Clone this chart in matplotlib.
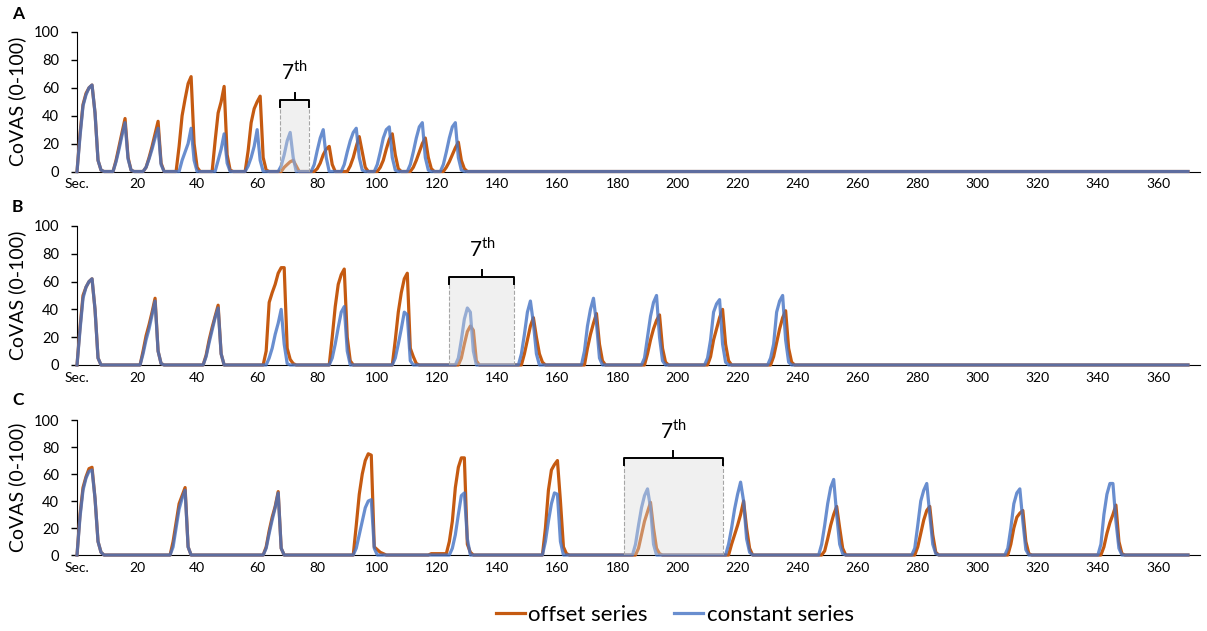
import numpy as np
import matplotlib
matplotlib.use('Agg')
from matplotlib import pyplot as plt
from matplotlib.patches import Rectangle

plt.rcParams['font.family'] = ['Lato', 'DejaVu Sans']
plt.rcParams['mathtext.fontset'] = 'custom'
plt.rcParams['mathtext.rm'] = 'Lato'

# time axis, one sample per second
seconds = np.arange(0, 371)
tick_pos = list(range(0, 361, 20))
tick_labels = ['Sec.'] + [str(t) for t in tick_pos[1:]]

# peaks: (start second, values per second); everything else is 0
a_offset = [(0, [0, 27, 48, 56, 60, 62, 42, 8, 1, 0]),
            (12, [0, 8, 18, 28, 38, 10, 1, 0]),
            (22, [0, 3, 10, 18, 27, 36, 6, 0]),
            (33, [0, 18, 40, 52, 63, 68, 20, 3, 0]),
            (45, [0, 22, 42, 50, 61, 12, 1, 0]),
            (56, [0, 15, 35, 45, 50, 54, 10, 1, 0]),
            (68, [0, 3, 5, 7, 8, 4, 0]),
            (79, [0, 2, 6, 12, 16, 18, 5, 0]),
            (90, [0, 4, 10, 18, 25, 14, 3, 0]),
            (100, [0, 3, 8, 16, 23, 27, 12, 2, 0]),
            (111, [0, 3, 8, 14, 20, 24, 10, 2, 0]),
            (122, [0, 3, 7, 12, 17, 21, 8, 2, 0])]
a_constant = [(0, [0, 25, 47, 55, 60, 62, 42, 8, 1, 0]),
              (12, [0, 7, 16, 26, 35, 9, 1, 0]),
              (22, [0, 3, 9, 16, 24, 31, 5, 0]),
              (34, [0, 8, 14, 20, 31, 8, 0]),
              (46, [0, 8, 16, 27, 6, 0]),
              (56, [0, 4, 10, 18, 30, 8, 0]),
              (67, [0, 4, 12, 22, 28, 10, 0]),
              (78, [0, 5, 15, 24, 30, 10, 0]),
              (88, [0, 5, 14, 22, 28, 31, 10, 1, 0]),
              (99, [0, 5, 14, 24, 30, 32, 10, 1, 0]),
              (110, [0, 5, 14, 24, 32, 35, 10, 1, 0]),
              (121, [0, 5, 14, 24, 32, 35, 10, 1, 0])]

b_offset = [(0, [0, 27, 50, 56, 60, 62, 40, 5, 0]),
            (21, [0, 10, 21, 29, 38, 48, 10, 1, 0]),
            (42, [0, 7, 18, 27, 35, 43, 8, 0]),
            (62, [0, 10, 45, 52, 58, 66, 70, 70, 12, 4, 1, 0]),
            (84, [0, 20, 42, 58, 65, 69, 20, 3, 0]),
            (105, [0, 18, 38, 52, 62, 66, 12, 6, 1, 0]),
            (127, [0, 5, 15, 24, 28, 25, 3, 0]),
            (148, [0, 8, 18, 28, 34, 20, 8, 2, 0]),
            (169, [0, 12, 22, 30, 37, 15, 3, 0]),
            (189, [0, 8, 18, 26, 32, 36, 12, 2, 0]),
            (210, [0, 6, 18, 26, 34, 40, 15, 3, 0]),
            (231, [0, 6, 16, 26, 34, 39, 12, 2, 0])]
b_constant = [(0, [0, 25, 48, 56, 60, 62, 40, 5, 0]),
              (21, [0, 8, 18, 26, 36, 46, 10, 1, 0]),
              (42, [0, 6, 16, 25, 34, 41, 8, 0]),
              (63, [0, 5, 12, 22, 30, 40, 15, 1, 0]),
              (84, [0, 5, 15, 27, 38, 42, 10, 0]),
              (105, [0, 5, 15, 26, 38, 36, 3, 0]),
              (126, [0, 5, 18, 33, 41, 38, 10, 0]),
              (147, [0, 8, 22, 38, 46, 30, 8, 0]),
              (168, [0, 10, 28, 40, 48, 30, 5, 0]),
              (188, [0, 5, 20, 35, 45, 50, 20, 3, 0]),
              (209, [0, 5, 18, 38, 44, 47, 15, 2, 0]),
              (230, [0, 5, 15, 38, 46, 50, 18, 2, 0])]

c_offset = [(0, [0, 30, 50, 58, 64, 65, 42, 10, 2, 0]),
            (31, [0, 10, 24, 38, 44, 50, 6, 0]),
            (62, [0, 6, 18, 28, 36, 47, 5, 0]),
            (92, [0, 22, 45, 60, 70, 75, 74, 6, 4, 2, 1, 0]),
            (118, [1, 1, 1, 1, 1, 1, 10, 25, 50, 65, 72, 72, 8, 2, 0]),
            (155, [0, 20, 48, 63, 67, 70, 40, 6, 1, 0]),
            (186, [0, 5, 15, 25, 32, 39, 20, 5, 1, 0]),
            (217, [0, 8, 15, 22, 30, 40, 20, 5, 0]),
            (248, [0, 3, 12, 22, 30, 36, 20, 5, 0]),
            (279, [0, 6, 16, 26, 33, 36, 15, 2, 0]),
            (310, [0, 8, 20, 28, 31, 33, 10, 1, 0]),
            (341, [0, 6, 16, 24, 30, 37, 10, 1, 0])]
c_constant = [(0, [0, 28, 48, 57, 62, 63, 42, 10, 2, 0]),
              (31, [0, 6, 20, 34, 42, 48, 6, 0]),
              (62, [0, 5, 16, 26, 35, 46, 5, 0]),
              (92, [0, 5, 15, 25, 35, 40, 41, 5, 0]),
              (124, [0, 5, 15, 30, 44, 46, 12, 0]),
              (155, [0, 10, 25, 38, 46, 45, 10, 0]),
              (185, [0, 8, 22, 35, 44, 49, 35, 8, 0]),
              (216, [0, 8, 20, 34, 45, 54, 40, 12, 2, 0]),
              (247, [0, 8, 22, 38, 50, 56, 30, 8, 1, 0]),
              (278, [0, 5, 22, 40, 48, 53, 30, 8, 1, 0]),
              (309, [0, 5, 20, 38, 46, 49, 25, 4, 0]),
              (340, [0, 8, 30, 45, 53, 53, 25, 5, 0])]

# 7th stimulus window: (from, to, top of bracket)
seventh = [(67.7, 77.3, 51.4), (124.0, 145.7, 63.5), (182.3, 215.0, 71.9)]

panel_names = ['A', 'B', 'C']
offsets = [a_offset, b_offset, c_offset]
constants = [a_constant, b_constant, c_constant]

orange = '#C55A11'
blue = '#4472C4'


def build(peaks):
    y = np.zeros(len(seconds))
    for start, vals in peaks:
        y[start:start + len(vals)] = vals
    return y


fig = plt.figure(figsize=(12.07, 6.31), dpi=100)
# axes rectangles in figure fractions (bottom, height)
rects = [(0.7282, 0.2211), (0.4216, 0.2203), (0.1204, 0.2139)]
letter_y = [1 - 14 / 631, 1 - 207 / 631, 1 - 400 / 631]

for i in range(3):
    ax = fig.add_axes([0.0638, rects[i][0], 0.9304, rects[i][1]])
    ax.plot(seconds, build(offsets[i]), color=orange, lw=2.3, clip_on=False, zorder=3)
    ax.plot(seconds, build(constants[i]), color=blue, lw=2.3, alpha=0.8, clip_on=False, zorder=4)

    x0, x1, top = seventh[i]
    box = Rectangle((x0, 0), x1 - x0, top, facecolor='#DADADA', alpha=0.4,
                    edgecolor='none', zorder=5)
    ax.add_patch(box)
    ax.plot([x0, x0], [0, top], color='#A6A6A6', lw=0.8, ls='--', zorder=6)
    ax.plot([x1, x1], [0, top], color='#A6A6A6', lw=0.8, ls='--', zorder=6)
    # bracket
    xm = (x0 + x1) / 2
    ax.plot([x0, x0, x1, x1], [top - 5, top, top, top - 5], color='black', lw=1.4,
            zorder=7, clip_on=False, solid_joinstyle='round')
    ax.plot([xm, xm], [top, top + 5], color='black', lw=1.4, zorder=7, clip_on=False)
    ax.text(xm, top + 20, '7$^{\\rm th}$', ha='center', va='center', fontsize=15)

    ax.set_xlim(0, 374)
    ax.set_ylim(0, 100)
    ax.set_yticks([0, 20, 40, 60, 80, 100])
    ax.set_xticks(tick_pos)
    ax.set_xticklabels(tick_labels)
    ax.tick_params(axis='x', length=0, pad=5, labelsize=10)
    ax.tick_params(axis='y', length=4, width=1, pad=9, labelsize=10.5)
    ax.spines['top'].set_visible(False)
    ax.spines['right'].set_visible(False)
    ax.spines['left'].set_color('black')
    ax.spines['bottom'].set_color('black')
    ax.set_facecolor('none')
    ax.set_ylabel('CoVAS (0-100)', fontsize=14)
    ax.yaxis.set_label_coords(-0.045, 0.5)
    fig.text(12 / 1207, letter_y[i], panel_names[i], fontsize=12.5,
             fontweight='bold', ha='left', va='center')

h1, = plt.plot([], [], color=orange, lw=2.3)
h2, = plt.plot([], [], color=blue, lw=2.3, alpha=0.8)
fig.legend([h1, h2], ['offset series', 'constant series'], loc='center',
           bbox_to_anchor=(0.559, 0.025), ncol=2, frameon=False, fontsize=16,
           handlelength=1.3, handletextpad=0.15, columnspacing=1.2)

plt.savefig('out.png', dpi=100)
